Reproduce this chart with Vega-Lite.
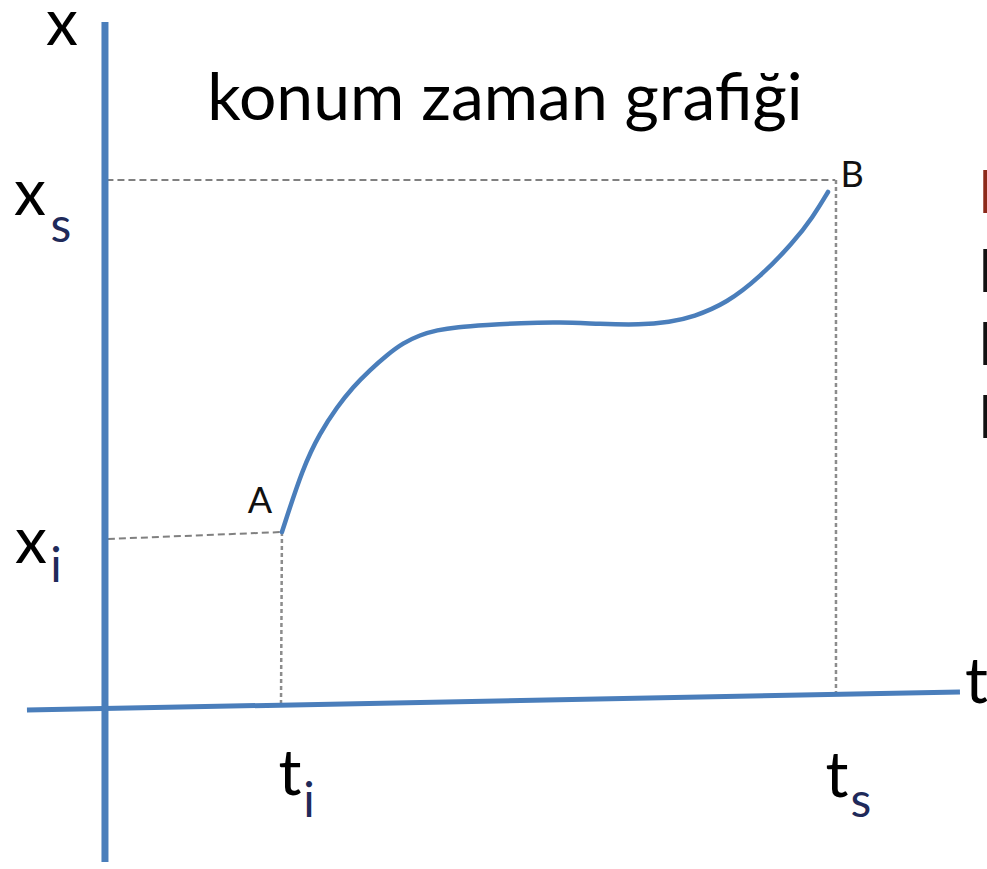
{
  "$schema": "https://vega.github.io/schema/vega-lite/v6.json",
  "width": 987,
  "height": 869,
  "padding": 0,
  "autosize": {"type": "none"},
  "background": "white",
  "config": {"view": {"stroke": null}, "font": "Lato"},
  "datasets": {
    "axes": [
      {"name": "x axis", "t": 0, "x": 12.99, "t2": 0, "x2": -2.917},
      {"name": "t axis", "t": -1.067, "x": -0.038, "t2": 11.696, "x2": 0.303}
    ],
    "levels": [
      {"name": "x_s", "t": 0.02, "x": 10.0, "t2": 9.99, "x2": 10.0},
      {"name": "x_i", "t": 0.04, "x": 3.201, "t2": 2.421, "x2": 3.333}
    ],
    "instants": [
      {"name": "t_s", "t": 10.0, "x": 10.0, "t2": 10.0, "x2": 0.208},
      {"name": "t_i", "t": 2.421, "x": 3.333, "t2": 2.408, "x2": 0.057}
    ],
    "path": [
      {"t": 2.421, "x": 3.333},
      {"t": 2.709, "x": 4.564},
      {"t": 2.941, "x": 5.208},
      {"t": 3.174, "x": 5.701},
      {"t": 3.393, "x": 6.08},
      {"t": 3.625, "x": 6.402},
      {"t": 3.858, "x": 6.686},
      {"t": 4.077, "x": 6.913},
      {"t": 4.309, "x": 7.064},
      {"t": 4.542, "x": 7.159},
      {"t": 4.815, "x": 7.216},
      {"t": 5.226, "x": 7.254},
      {"t": 5.677, "x": 7.292},
      {"t": 6.224, "x": 7.311},
      {"t": 6.772, "x": 7.273},
      {"t": 7.319, "x": 7.254},
      {"t": 7.729, "x": 7.311},
      {"t": 8.044, "x": 7.405},
      {"t": 8.509, "x": 7.67},
      {"t": 8.96, "x": 8.163},
      {"t": 9.412, "x": 8.807},
      {"t": 9.685, "x": 9.299},
      {"t": 9.891, "x": 9.773}
    ],
    "labels": [
      {"kind": "title", "t": 5.472, "x": 11.136, "text": "konum zaman grafiği"},
      {"kind": "variable", "t": -0.588, "x": 12.557, "text": "x"},
      {"kind": "variable", "t": -1.026, "x": 9.337, "text": "x"},
      {"kind": "variable", "t": -1.012, "x": 2.746, "text": "x"},
      {"kind": "variable", "t": 2.531, "x": -1.648, "text": "t"},
      {"kind": "variable", "t": 10.014, "x": -1.686, "text": "t"},
      {"kind": "subscript", "t": -0.602, "x": 8.826, "text": "s"},
      {"kind": "subscript", "t": -0.67, "x": 2.386, "text": "i"},
      {"kind": "subscript", "t": 2.791, "x": -2.064, "text": "i"},
      {"kind": "subscript", "t": 10.342, "x": -2.064, "text": "s"},
      {"kind": "point", "t": 2.12, "x": 3.693, "text": "A"},
      {"kind": "point", "t": 10.22, "x": 9.867, "text": "B"}
    ],
    "axisnames": [
      {"t": 11.765, "x": 0.095, "text": "t"}
    ],
    "notes": [
      {"line": 1, "t": 11.956, "x": 9.375, "text": "l"},
      {"line": 2, "t": 11.956, "x": 7.879, "text": "l"},
      {"line": 3, "t": 11.956, "x": 6.496, "text": "l"},
      {"line": 4, "t": 11.956, "x": 5.114, "text": "l"}
    ]
  },
  "encoding": {
    "x": {"field": "t", "type": "quantitative", "scale": {"domain": [-1.436, 12.066], "nice": false, "zero": false}, "axis": null},
    "y": {"field": "x", "type": "quantitative", "scale": {"domain": [-3.049, 13.409], "nice": false, "zero": false}, "axis": null}
  },
  "layer": [
    {
      "data": {"name": "levels"},
      "mark": {"type": "rule", "color": "#808080", "strokeWidth": 2, "strokeDash": [7, 4]},
      "encoding": {"x2": {"field": "t2"}, "y2": {"field": "x2"}}
    },
    {
      "data": {"name": "instants"},
      "mark": {"type": "rule", "color": "#8c8c8c", "strokeWidth": 2.5, "strokeDash": [4, 3]},
      "encoding": {"x2": {"field": "t2"}, "y2": {"field": "x2"}}
    },
    {
      "data": {"name": "axes"},
      "transform": [{"filter": "datum.name === 't axis'"}],
      "mark": {"type": "rule", "color": "#4a7ebb", "strokeWidth": 5},
      "encoding": {"x2": {"field": "t2"}, "y2": {"field": "x2"}}
    },
    {
      "data": {"name": "axes"},
      "transform": [{"filter": "datum.name === 'x axis'"}],
      "mark": {"type": "rule", "color": "#4a7ebb", "strokeWidth": 7},
      "encoding": {"x2": {"field": "t2"}, "y2": {"field": "x2"}}
    },
    {
      "data": {"name": "path"},
      "mark": {"type": "line", "color": "#4a7ebb", "strokeWidth": 4.5, "interpolate": "basis", "strokeCap": "round"},
      "encoding": {}
    },
    {
      "data": {"name": "labels"},
      "transform": [{"filter": "datum.kind === 'title'"}],
      "mark": {"type": "text", "fontSize": 66, "align": "center", "baseline": "alphabetic", "color": "#000000"},
      "encoding": {"text": {"field": "text"}}
    },
    {
      "data": {"name": "labels"},
      "transform": [{"filter": "datum.kind === 'variable'"}],
      "mark": {"type": "text", "fontSize": 64, "align": "center", "baseline": "alphabetic", "color": "#000000"},
      "encoding": {"text": {"field": "text"}}
    },
    {
      "data": {"name": "labels"},
      "transform": [{"filter": "datum.kind === 'subscript'"}],
      "mark": {"type": "text", "fontSize": 48, "align": "center", "baseline": "alphabetic", "color": "#1f2a5a"},
      "encoding": {"text": {"field": "text"}}
    },
    {
      "data": {"name": "labels"},
      "transform": [{"filter": "datum.kind === 'point'"}],
      "mark": {"type": "text", "fontSize": 36, "align": "center", "baseline": "alphabetic", "color": "#111111"},
      "encoding": {"text": {"field": "text"}}
    },
    {
      "data": {"name": "axisnames"},
      "mark": {"type": "text", "fontSize": 64, "align": "left", "baseline": "alphabetic", "color": "#000000"},
      "encoding": {"text": {"field": "text"}}
    },
    {
      "data": {"name": "notes"},
      "mark": {"type": "text", "fontSize": 58, "align": "left", "baseline": "alphabetic"},
      "encoding": {
        "text": {"field": "text"},
        "color": {"condition": {"test": "datum.line === 1", "value": "#8c2a1a"}, "value": "#111111"}
      }
    }
  ]
}
